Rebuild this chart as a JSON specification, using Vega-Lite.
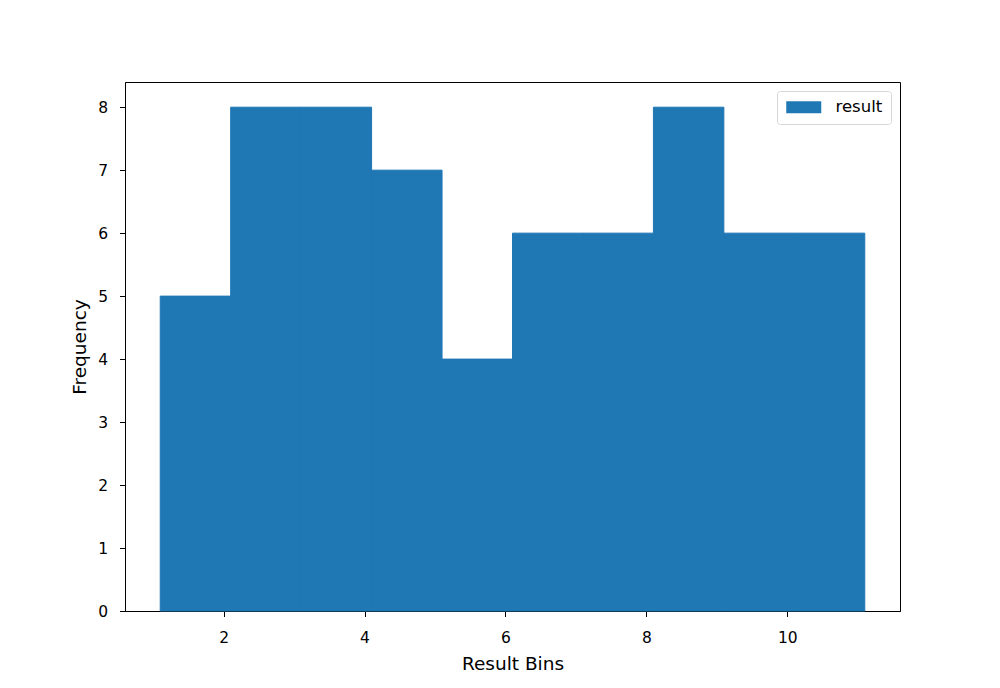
{
  "$schema": "https://vega.github.io/schema/vega-lite/v6.json",
  "width": 775,
  "height": 529,
  "autosize": {"type": "none"},
  "padding": {"left": 125, "top": 82, "right": 100, "bottom": 77},
  "background": "white",
  "config": {
    "font": "DejaVu Sans",
    "view": {"stroke": "black", "strokeWidth": 1},
    "axis": {
      "domainColor": "black",
      "tickColor": "black",
      "labelColor": "black",
      "titleColor": "black",
      "grid": false,
      "tickSize": 5.5,
      "labelFontSize": 15.5,
      "titleFontSize": 18.5,
      "titleFontWeight": "normal",
      "labelFont": "DejaVu Sans",
      "titleFont": "DejaVu Sans",
      "zindex": 1
    }
  },
  "data": {
    "values": [
      {"bin_start": 1.1, "bin_end": 2.1, "count": 5, "series": "result"},
      {"bin_start": 2.1, "bin_end": 3.1, "count": 8, "series": "result"},
      {"bin_start": 3.1, "bin_end": 4.1, "count": 8, "series": "result"},
      {"bin_start": 4.1, "bin_end": 5.1, "count": 7, "series": "result"},
      {"bin_start": 5.1, "bin_end": 6.1, "count": 4, "series": "result"},
      {"bin_start": 6.1, "bin_end": 7.1, "count": 6, "series": "result"},
      {"bin_start": 7.1, "bin_end": 8.1, "count": 6, "series": "result"},
      {"bin_start": 8.1, "bin_end": 9.1, "count": 8, "series": "result"},
      {"bin_start": 9.1, "bin_end": 10.1, "count": 6, "series": "result"},
      {"bin_start": 10.1, "bin_end": 11.1, "count": 6, "series": "result"}
    ]
  },
  "mark": {"type": "rect", "stroke": "#1f77b4", "strokeWidth": 1},
  "encoding": {
    "x": {
      "field": "bin_start",
      "type": "quantitative",
      "scale": {"domain": [0.6, 11.6], "nice": false, "zero": false},
      "axis": {"values": [2, 4, 6, 8, 10], "title": "Result Bins", "labelPadding": 14, "titlePadding": 8, "labelFlush": false}
    },
    "x2": {"field": "bin_end"},
    "y": {
      "field": "count",
      "type": "quantitative",
      "scale": {"domain": [0, 8.4], "nice": false},
      "axis": {"values": [0, 1, 2, 3, 4, 5, 6, 7, 8], "title": "Frequency", "labelPadding": 12, "titlePadding": 8, "labelFlush": false}
    },
    "y2": {"datum": 0},
    "color": {
      "field": "series",
      "type": "nominal",
      "scale": {"domain": ["result"], "range": ["#1f77b4"]},
      "legend": {
        "title": null,
        "orient": "top-right",
        "offset": 9,
        "padding": 8,
        "strokeColor": "#d6d6d6",
        "fillColor": "white",
        "cornerRadius": 3,
        "symbolType": "M-2.5,-0.857H2.5V0.857H-2.5Z",
        "symbolSize": 196,
        "symbolStrokeWidth": 0,
        "symbolOpacity": 1,
        "symbolOffset": 10.5,
        "labelOffset": 23.5,
        "labelFontSize": 16.5,
        "labelFont": "DejaVu Sans",
        "labelColor": "black"
      }
    }
  }
}
